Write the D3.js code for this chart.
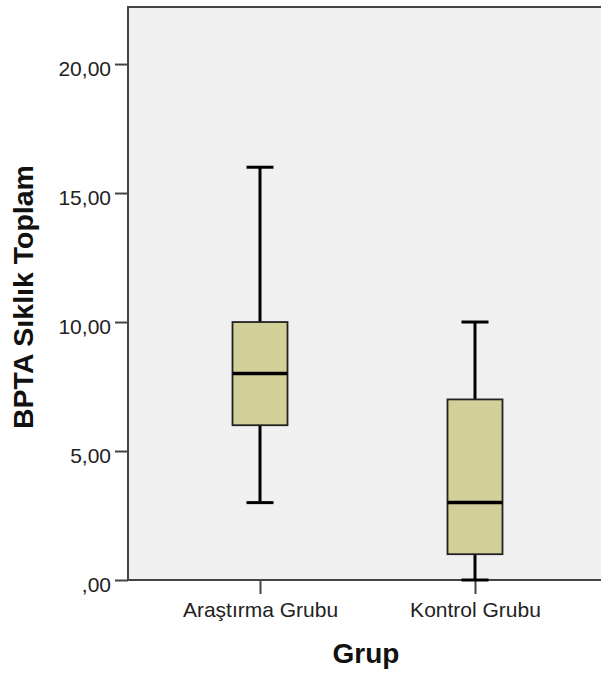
<!DOCTYPE html>
<html>
<head>
<meta charset="utf-8">
<script src="https://cdn.jsdelivr.net/npm/d3@7"></script>
<style>
  body { margin: 0; background: #fff; }
  text { font-family: "Liberation Sans", Arial, sans-serif; }
</style>
</head>
<body>
<div id="chart"></div>
<script>
// Box plot values
var groups = ["Araştırma Grubu", "Kontrol Grubu"];
var whiskerLow = [3, 0];
var q1 = [6, 1];
var median = [8, 3];
var q3 = [10, 7];
var whiskerHigh = [16, 10];
var yTicks = [0, 5, 10, 15, 20];

var W = 601, H = 677;
var plotLeft = 128, plotBottom = 580, plotTop = 6;

var svg = d3.select("#chart")
  .append("svg")
    .attr("width", W)
    .attr("height", H);

var x = d3.scalePoint()
  .domain(groups)
  .range([plotLeft, 607])
  .padding(0.614);

var y = d3.scaleLinear()
  .domain([0, 22.25])
  .range([plotBottom, plotTop]);

// plot background
svg.append("rect")
  .attr("x", plotLeft)
  .attr("y", plotTop)
  .attr("width", W - plotLeft)
  .attr("height", plotBottom - plotTop)
  .attr("fill", "#f0f0f0");

// top frame
svg.append("line")
  .attr("x1", plotLeft).attr("x2", W)
  .attr("y1", plotTop + 1).attr("y2", plotTop + 1)
  .attr("stroke", "#444")
  .attr("stroke-width", 2);

// Y axis
var yAxis = svg.append("g")
  .attr("transform", "translate(" + plotLeft + ",0)")
  .call(d3.axisLeft(y).tickValues(yTicks).tickSize(13).tickPadding(4)
    .tickFormat(function(d) { return d === 0 ? ",00" : d3.format(".2f")(d).replace(".", ","); }));
yAxis.select(".domain").attr("stroke", "#444").attr("stroke-width", 2)
  .attr("d", "M0," + plotTop + "V" + plotBottom);
yAxis.selectAll(".tick line").attr("stroke", "#444").attr("stroke-width", 2);
yAxis.selectAll(".tick text").attr("font-size", 21).attr("fill", "#222").attr("dy", "0.55em");

// X axis
var xAxis = svg.append("g")
  .attr("transform", "translate(0," + plotBottom + ")")
  .call(d3.axisBottom(x).tickSize(14).tickPadding(8));
xAxis.select(".domain").attr("stroke", "#444").attr("stroke-width", 2)
  .attr("d", "M" + plotLeft + ",0H" + W);
xAxis.selectAll(".tick line").attr("stroke", "#444").attr("stroke-width", 2);
xAxis.selectAll(".tick text").attr("font-size", 21).attr("fill", "#222");

// boxes
var boxW = 55, capW = 27;
var data = groups.map(function(g, i) {
  return { g: g, lo: whiskerLow[i], q1: q1[i], med: median[i], q3: q3[i], hi: whiskerHigh[i] };
});

var box = svg.append("g").selectAll("g")
  .data(data)
  .enter()
  .append("g");

// whiskers
box.append("line")
  .attr("x1", function(d) { return x(d.g); })
  .attr("x2", function(d) { return x(d.g); })
  .attr("y1", function(d) { return y(d.hi); })
  .attr("y2", function(d) { return y(d.lo); })
  .attr("stroke", "#000")
  .attr("stroke-width", 3);

box.selectAll(".cap")
  .data(function(d) { return [{ g: d.g, v: d.lo }, { g: d.g, v: d.hi }]; })
  .enter()
  .append("line")
  .attr("class", "cap")
  .attr("x1", function(d) { return x(d.g) - capW / 2; })
  .attr("x2", function(d) { return x(d.g) + capW / 2; })
  .attr("y1", function(d) { return y(d.v); })
  .attr("y2", function(d) { return y(d.v); })
  .attr("stroke", "#000")
  .attr("stroke-width", 3);

box.append("rect")
  .attr("x", function(d) { return x(d.g) - boxW / 2; })
  .attr("y", function(d) { return y(d.q3); })
  .attr("width", boxW)
  .attr("height", function(d) { return y(d.q1) - y(d.q3); })
  .attr("fill", "#d3cf98")
  .attr("stroke", "#222")
  .attr("stroke-width", 1.8);

box.append("line")
  .attr("x1", function(d) { return x(d.g) - boxW / 2; })
  .attr("x2", function(d) { return x(d.g) + boxW / 2; })
  .attr("y1", function(d) { return y(d.med); })
  .attr("y2", function(d) { return y(d.med); })
  .attr("stroke", "#000")
  .attr("stroke-width", 3.5);

// axis titles
svg.append("text")
  .attr("transform", "translate(33," + 297 + ") rotate(-90)")
  .attr("text-anchor", "middle")
  .attr("font-size", 28.5)
  .attr("font-weight", "bold")
  .attr("fill", "#111")
  .text("BPTA Sıklık Toplam");

svg.append("text")
  .attr("x", 366)
  .attr("y", 663)
  .attr("text-anchor", "middle")
  .attr("font-size", 28)
  .attr("font-weight", "bold")
  .attr("fill", "#111")
  .text("Grup");
</script>
</body>
</html>
